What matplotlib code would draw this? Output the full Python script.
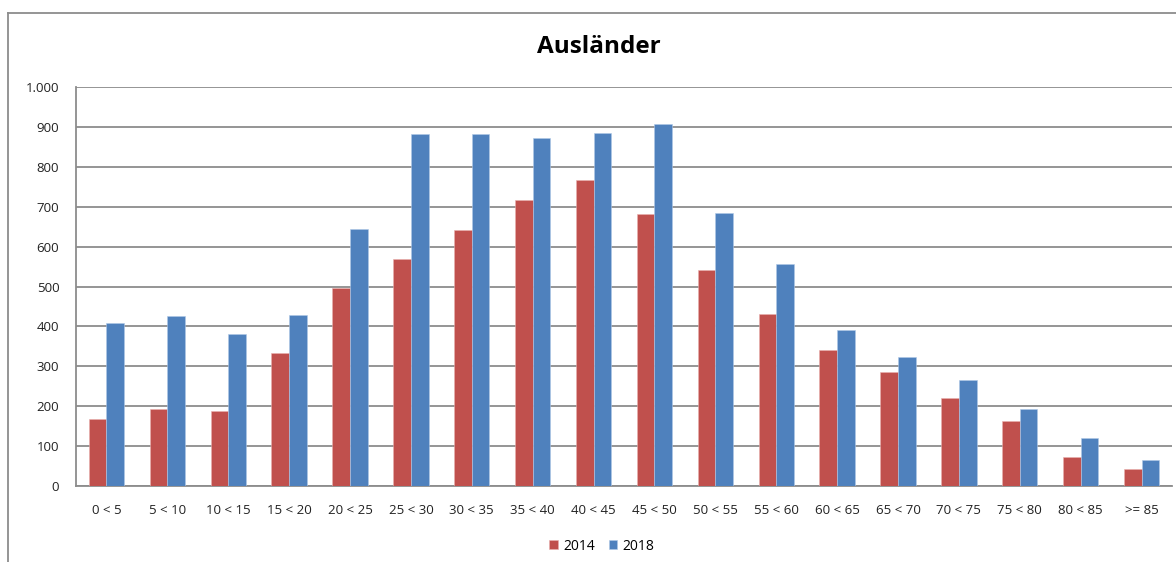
import matplotlib.pyplot as plt
import matplotlib.ticker as mticker
from matplotlib.lines import Line2D
import numpy as np

# Altersgruppen und Werte
categories = ['0 < 5', '5 < 10', '10 < 15', '15 < 20', '20 < 25', '25 < 30', '30 < 35',
              '35 < 40', '40 < 45', '45 < 50', '50 < 55', '55 < 60', '60 < 65', '65 < 70',
              '70 < 75', '75 < 80', '80 < 85', '>= 85']
values_2014 = [168, 192, 188, 333, 497, 568, 641, 718, 766, 681, 542, 430, 341, 285, 220, 162, 72, 42]
values_2018 = [409, 426, 382, 429, 645, 882, 882, 873, 884, 908, 683, 556, 391, 323, 265, 192, 121, 66]
series_names = ['2014', '2018']
colors = ['#C0504D', '#4F81BD']
yticks = [0, 100, 200, 300, 400, 500, 600, 700, 800, 900, 1000]

plt.rcParams['font.family'] = ['Open Sans', 'DejaVu Sans']

fig = plt.figure(figsize=(11.76, 5.62), dpi=100)
ax = fig.add_axes([76/1176, 76/562, 1096/1176, 399/562])

x = np.arange(len(categories))
w = 0.29
ax.bar(x - w/2, values_2014, w, color=colors[0], label=series_names[0], zorder=3,
       edgecolor='#E8B0AE', linewidth=0.4)
ax.bar(x + w/2, values_2018, w, color=colors[1], label=series_names[1], zorder=3,
       edgecolor='#B0C8E6', linewidth=0.4)

ax.set_xlim(-0.5, len(categories) - 0.5)
ax.set_ylim(0, 1000)
ax.set_yticks(yticks)
ax.yaxis.set_major_formatter(mticker.FuncFormatter(lambda v, p: f'{int(v):,}'.replace(',', '.')))
ax.set_xticks(x)
ax.set_xticklabels(categories)
ax.tick_params(axis='both', length=0, labelsize=9.5, colors='#222222')
ax.tick_params(axis='x', pad=13)
ax.tick_params(axis='y', pad=12)

ax.grid(axis='y', color='#8C8C8C', linewidth=1.3, zorder=0)
for s in ['top', 'right']:
    ax.spines[s].set_visible(False)
for s in ['left', 'bottom']:
    ax.spines[s].set_color('#8C8C8C')
    ax.spines[s].set_linewidth(1.3)

fig.text(599/1176, 1 - 47/562, 'Ausländer', ha='center', va='center',
         fontsize=17.5, fontweight='bold', color='black')

fig.legend(loc='center', bbox_to_anchor=(602/1176, 1 - 546/562), ncol=2, frameon=False,
           fontsize=10, handlelength=0.6, handleheight=0.6, handletextpad=0.4,
           columnspacing=1.0)

# Rahmen des Diagramms
fig.add_artist(Line2D([8/1176, 1], [1 - 13/562, 1 - 13/562], color='#8C8C8C', linewidth=1.3))
fig.add_artist(Line2D([8/1176, 8/1176], [0, 1 - 13/562], color='#8C8C8C', linewidth=1.3))

fig.savefig('out.png', dpi=100)
